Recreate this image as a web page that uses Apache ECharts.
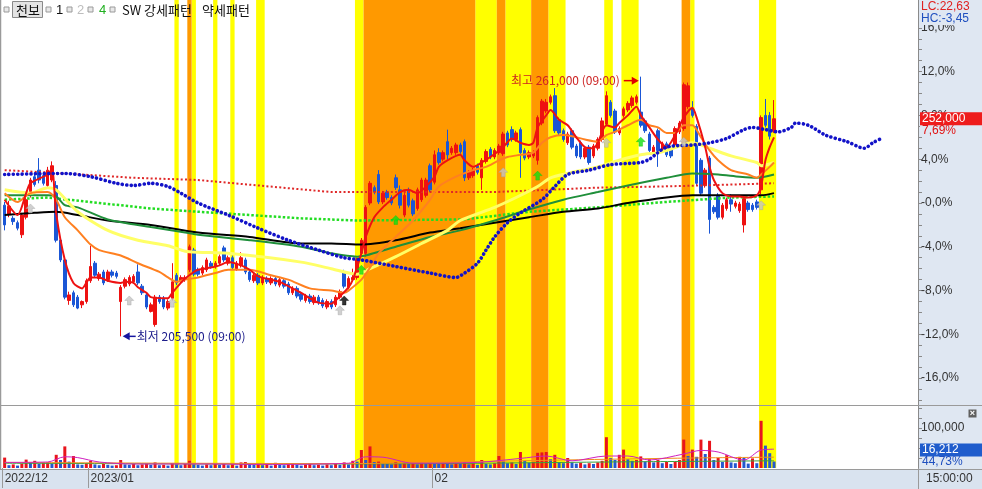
<!DOCTYPE html>
<html>
<head>
<meta charset="utf-8">
<script src="https://cdn.jsdelivr.net/npm/echarts@6.0.0/dist/echarts.min.js"></script>
<style>
html,body{margin:0;padding:0;background:#ffffff;overflow:hidden}
#c{width:982px;height:489px}
</style>
</head>
<body>
<div id="c"></div>
<script>
// ---------------- DATA ----------------
const SLOTS = 213;                       // category slots on the time axis (incl. forward space)
const xTickLabels = [[0, '2022/12'], [20, '2023/01'], [100, '02']];
const yTickPct = [-16, -12, -8, -4, 0, 4, 8, 12, 16];
const volTickLabels = [100000];
const volMinorTicks = [25000, 50000, 75000, 100000, 125000, 150000];

// candles: [open, close, low, high] in % versus reference price
const ohlc = [
[-0.2,-2.0,-2.5,0.1],[-1.0,-0.3,-1.3,0.2],[-1.4,-1.7,-2.0,-1.2],[-1.8,-2.3,-2.5,-1.6],[-2.9,-1.1,-3.2,-0.9],
[-1.3,0.3,-1.5,0.6],[0.7,2.1,0.5,2.3],[2.4,1.7,1.5,2.8],[3.0,2.1,1.8,4.1],[2.5,1.8,1.6,2.7],
[1.6,3.0,1.4,3.3],[2.1,3.4,1.9,3.8],[1.6,-3.4,-3.6,2.0],[-3.4,-5.2,-5.4,-3.2],[-5.2,-8.6,-8.8,-5.0],
[-8.9,-8.4,-9.3,-8.1],[-8.2,-9.3,-9.5,-8.0],[-8.6,-9.6,-9.7,-8.4],[-9.3,-9.0,-9.6,-8.9],[-9.0,-7.1,-9.2,-6.9],
[-7.1,-5.8,-7.3,-3.9],[-5.5,-6.6,-6.8,-5.3],[-6.9,-6.5,-7.1,-6.3],[-6.3,-7.3,-7.5,-6.1],[-7.0,-6.3,-7.2,-6.1],
[-6.3,-6.6,-6.8,-6.1],[-6.4,-6.7,-6.9,-6.2],[-9.0,-7.7,-12.18,-7.5],[-7.6,-7.0,-7.8,-6.8],[-7.4,-6.8,-7.6,-6.6],
[-7.2,-6.7,-7.4,-6.5],[-6.3,-7.3,-7.5,-5.6],[-7.6,-8.2,-8.4,-7.4],[-8.4,-9.5,-9.7,-8.2],[-9.9,-9.3,-10.0,-9.1],
[-11.1,-8.6,-11.3,-8.4],[-8.6,-9.0,-9.2,-8.4],[-8.7,-9.5,-9.7,-8.5],[-9.6,-9.0,-9.8,-8.8],[-8.7,-7.2,-8.9,-5.5],
[-6.6,-7.3,-7.5,-6.4],[-7.2,-6.8,-7.4,-6.6],[-7.0,-6.8,-7.2,-6.6],[-6.1,-4.0,-6.3,-3.8],[-4.3,-6.5,-6.7,-4.1],
[-6.1,-6.5,-6.7,-5.9],[-6.4,-5.9,-6.6,-5.7],[-6.1,-5.2,-6.3,-5.0],[-5.5,-5.8,-6.0,-5.3],[-5.8,-5.5,-6.0,-5.3],
[-5.5,-4.9,-5.7,-4.7],[-4.1,-5.2,-5.4,-3.9],[-5.5,-5.0,-5.7,-4.8],[-5.0,-5.9,-6.1,-4.8],[-6.0,-5.5,-6.2,-5.3],
[-5.7,-5.0,-5.9,-4.5],[-5.2,-6.3,-6.5,-5.0],[-6.3,-7.0,-7.2,-6.1],[-7.1,-6.6,-7.3,-6.4],[-6.6,-7.3,-7.5,-6.4],
[-7.3,-6.8,-7.5,-6.6],[-6.9,-7.2,-7.4,-6.7],[-7.3,-6.9,-7.5,-6.7],[-6.9,-7.4,-7.6,-6.7],[-7.5,-7.0,-7.7,-6.8],
[-7.1,-7.6,-7.8,-6.9],[-7.4,-8.2,-8.4,-7.2],[-8.2,-7.8,-8.4,-7.6],[-7.8,-8.5,-8.7,-7.6],[-8.3,-8.8,-9.0,-8.1],
[-8.9,-8.5,-9.1,-8.3],[-8.5,-9.0,-9.2,-8.3],[-9.1,-8.6,-9.3,-8.4],[-8.6,-9.1,-9.3,-8.4],[-8.9,-9.4,-9.6,-8.7],
[-9.5,-9.0,-9.7,-8.8],[-9.0,-9.5,-9.7,-8.8],[-9.3,-8.6,-9.5,-8.4],[-8.6,-8.1,-8.8,-7.9],[-6.3,-7.6,-7.8,-6.1],
[-7.7,-6.9,-7.9,-6.7],[-7.0,-6.8,-7.2,-6.0],[-6.8,-5.2,-7.0,-5.0],[-4.6,-3.4,-4.8,-3.2],[-4.6,-0.4,-4.9,-0.2],
[0.0,1.8,-0.2,2.0],[1.4,1.0,0.8,1.6],[2.6,0.1,-0.1,3.0],[0.1,0.9,-0.1,1.1],[1.0,0.5,0.3,1.2],
[0.5,0.0,-0.2,0.7],[2.3,1.4,1.2,2.6],[1.2,-0.2,-0.5,1.6],[-1.1,0.7,-1.3,0.9],[1.2,-0.2,-0.4,1.4],
[0.2,-1.0,-1.2,0.4],[-0.5,1.2,-0.7,1.4],[0.3,2.1,0.1,2.3],[0.7,2.1,0.5,2.3],[3.4,1.2,1.0,3.6],
[1.9,4.4,1.7,4.8],[4.6,3.7,3.5,5.0],[4.0,4.6,3.8,4.8],[5.6,4.4,4.0,6.7],[4.6,5.0,4.4,5.2],
[4.6,5.3,4.4,5.5],[5.3,4.7,4.5,5.5],[5.6,2.3,2.0,5.8],[2.3,2.8,2.1,3.0],[2.5,3.0,2.3,3.2],
[3.4,2.8,2.6,3.6],[2.3,3.9,1.2,4.1],[3.8,4.7,3.6,4.9],[4.9,4.2,4.0,5.1],[4.2,4.8,4.0,5.0],
[4.6,5.2,4.4,5.4],[4.5,6.3,4.3,6.5],[6.4,5.3,5.1,6.6],[6.7,5.8,5.6,7.0],[5.8,6.4,5.6,6.6],
[6.7,4.6,2.3,6.9],[4.8,4.1,3.9,5.0],[4.2,4.6,4.0,4.8],[4.3,4.6,4.1,4.8],[3.9,7.8,3.5,8.0],
[7.3,9.3,7.1,9.5],[8.4,9.2,8.2,9.5],[9.2,9.7,9.0,9.9],[9.8,6.6,6.4,10.5],[7.6,6.4,6.2,7.8],
[6.6,5.8,5.6,6.8],[5.5,6.3,5.3,6.5],[6.6,5.1,4.9,6.8],[5.2,4.3,4.1,5.4],[5.5,4.2,4.0,5.7],
[4.2,5.0,4.0,5.2],[5.1,3.7,3.5,5.3],[4.3,5.2,4.1,5.4],[5.0,5.8,4.8,6.0],[5.8,7.5,5.6,7.8],
[7.2,9.8,7.0,10.2],[9.2,8.0,7.8,9.4],[8.4,6.5,6.3,8.6],[6.4,6.8,6.2,7.0],[8.0,8.6,7.8,8.8],
[8.5,9.1,8.3,9.3],[8.9,9.6,8.7,9.8],[9.2,9.7,9.0,9.9],[8.3,7.1,6.9,11.54],[7.5,6.6,6.4,7.7],
[6.3,4.8,4.6,6.5],[4.6,5.1,4.4,5.3],[6.6,4.8,3.3,6.8],[4.9,5.4,4.7,5.6],[5.4,4.4,4.2,5.6],
[5.0,4.3,4.1,5.2],[5.3,6.8,5.1,7.0],[6.5,7.3,6.3,7.5],[6.8,10.8,6.6,11.0],[8.8,10.7,8.6,11.0],
[8.6,8.0,7.8,9.3],[7.0,1.8,1.6,7.2],[3.9,0.9,0.7,4.1],[1.6,3.0,1.4,3.2],[4.1,-1.5,-2.8,4.3],
[-0.4,-0.8,-1.0,-0.2],[0.7,-1.3,-1.5,0.9],[-1.3,-0.2,-1.5,0.0],[-0.5,0.3,-0.7,0.5],[0.3,-0.1,-0.8,0.8],
[-0.3,0.0,-0.5,0.2],[-0.7,-0.1,-0.9,0.1],[-2.0,0.4,-2.7,0.6],[0.0,-0.6,-0.8,0.2],[-0.2,-0.6,-0.8,0.0],
[0.1,-0.4,-0.6,0.3],[1.2,7.8,0.8,8.0],[8.0,7.1,6.9,9.5],[8.0,6.1,5.8,8.3],[6.6,7.69,6.4,9.4]
];

const volumes = [
26000,7000,9000,6000,11000,21000,14000,18000,10000,13000,15000,11000,33000,20000,54000,16000,30000,9000,8000,12000,
18000,9000,7000,10000,8000,6000,7000,20000,9000,8000,10000,7000,9000,11000,8000,14000,7000,8000,6000,12000,
9000,7000,10000,18000,9000,8000,6000,9000,7000,11000,8000,10000,7000,9000,6000,14000,15000,11000,8000,12000,
7000,9000,6000,13000,8000,7000,10000,12000,8000,6000,9000,11000,7000,8000,6000,9000,7000,10000,8000,14000,
9000,18000,16000,45000,20000,54000,15000,16000,12000,10000,9000,15000,11000,13000,10000,12000,9000,14000,11000,13000,
12000,10000,13000,11000,9000,12000,10000,14000,9000,11000,8000,20000,10000,9000,12000,30000,16000,12000,14000,10000,
40000,18000,13000,15000,38000,39000,40000,22000,33000,15000,12000,25000,14000,11000,13000,9000,12000,10000,14000,18000,
77000,25000,20000,33000,46000,22000,18000,20000,29000,16000,22000,14000,20000,12000,15000,10000,16000,20000,71000,30000,
46000,28000,71000,35000,68000,20000,25000,15000,32000,14000,12000,28000,25000,11000,24000,12000,118000,56000,37000,16212
];

// moving-average style lines: [barIndex, % value]
const maRed = [[0,0.3],[3,-1.1],[5,0.9],[6,1.8],[10,2.6],[11,3.1],[12,-1.0],[14,-5.2],[16,-7.3],[18,-7.8],[19,-7.3],[20,-6.8],[22,-6.8],[24,-7.1],[27,-7.3],[28,-7.2],[30,-7.3],[31,-7.7],[33,-8.2],[34,-8.6],[37,-8.7],[38,-8.7],[39,-8.2],[41,-7.3],[42,-6.9],[44,-6.3],[45,-6.1],[48,-5.9],[50,-5.7],[52,-5.4],[55,-5.7],[57,-6.1],[59,-6.7],[62,-7.0],[64,-7.2],[66,-7.6],[69,-8.2],[71,-8.7],[73,-9.1],[76,-9.2],[77,-8.9],[80,-7.7],[81,-7.0],[83,-4.6],[84,-3.1],[86,-1.3],[88,-0.4],[90,0.3],[92,1.0],[94,1.2],[96,0.9],[98,1.5],[100,2.4],[101,3.3],[103,3.9],[106,4.4],[107,3.9],[109,3.3],[111,3.7],[113,4.2],[116,5.1],[118,5.9],[120,5.5],[122,5.3],[123,5.5],[124,6.9],[126,8.0],[127,8.5],[129,7.6],[131,7.1],[133,6.0],[135,5.1],[137,5.0],[138,5.5],[140,7.1],[142,6.9],[143,7.3],[145,8.0],[147,8.8],[148,8.0],[150,6.9],[152,5.8],[154,5.1],[156,6.2],[158,7.8],[160,8.7],[161,7.8],[163,5.1],[164,3.3],[165,2.1],[167,0.9],[169,0.6],[171,0.6],[173,0.5],[175,0.7],[176,1.5],[177,3.9],[178,5.1],[179,6.0]];
const maOrange = [[0,0.9],[3,0.1],[6,0.9],[10,1.0],[12,0.3],[14,-1.3],[17,-2.5],[20,-3.8],[22,-4.3],[27,-4.8],[31,-5.5],[36,-6.3],[38,-6.8],[40,-7.2],[42,-7.0],[45,-6.8],[49,-6.4],[52,-6.1],[57,-6.1],[62,-6.6],[66,-7.0],[71,-7.8],[76,-8.0],[79,-8.2],[80,-8.0],[83,-7.0],[85,-5.9],[87,-4.6],[91,-3.1],[95,-1.6],[99,0.3],[101,1.5],[105,2.4],[109,3.0],[112,3.3],[115,3.9],[117,4.2],[120,4.4],[123,4.6],[125,5.5],[127,6.0],[130,6.2],[132,6.1],[135,5.8],[138,5.6],[140,6.2],[142,6.5],[145,7.1],[148,7.6],[150,7.1],[152,6.9],[154,6.4],[156,6.4],[158,7.1],[160,7.1],[162,6.0],[164,4.8],[166,3.9],[169,3.0],[173,2.6],[175,2.3],[176,2.6],[178,3.3],[179,3.7]];
const maYellow = [[0,1.2],[6,0.9],[10,1.4],[12,1.2],[17,-0.8],[24,-2.5],[31,-3.4],[38,-3.9],[42,-4.4],[45,-4.5],[52,-4.6],[69,-5.4],[76,-6.0],[82,-6.5],[85,-6.0],[91,-4.9],[97,-3.7],[103,-2.5],[106,-1.6],[114,-0.4],[119,0.5],[124,1.5],[127,2.3],[131,2.7],[138,3.3],[143,3.9],[148,4.4],[152,4.6],[154,4.8],[160,5.5],[164,5.0],[169,4.3],[175,3.7],[176,3.4],[179,3.7]];
const maGreen = [[0,0.7],[10,0.7],[12,0.6],[14,-0.2],[17,-0.4],[24,-1.5],[34,-2.2],[42,-2.7],[45,-2.9],[57,-3.4],[69,-4.0],[76,-4.6],[82,-4.9],[84,-4.8],[91,-4.0],[99,-3.1],[106,-2.5],[114,-1.6],[122,-0.6],[130,0.3],[138,1.0],[145,1.6],[154,2.3],[160,2.7],[166,2.6],[171,2.4],[175,2.3],[179,2.6]];
const maBlack = [[0,-1.1],[7,-0.9],[12,-0.8],[17,-1.1],[24,-1.6],[34,-2.0],[45,-2.7],[57,-3.1],[69,-3.7],[76,-3.7],[83,-3.8],[91,-3.4],[99,-2.7],[106,-2.3],[114,-1.8],[122,-1.3],[130,-0.8],[138,-0.5],[145,0.0],[154,0.5],[160,0.7],[166,0.7],[176,0.7],[179,0.9]];
const dotRed = [[0,3.0],[14,2.7],[30,2.3],[45,2.1],[59,1.6],[76,1.0],[114,1.0],[138,1.4],[152,1.5],[162,1.6],[179,1.8]];
const dotGreen = [[0,0.3],[10,0.5],[22,0.0],[34,-0.5],[45,-0.8],[69,-1.4],[82,-1.6],[107,-1.5],[122,-0.8],[138,-0.4],[154,0.1],[169,0.5],[179,0.6]];
const dotBlue = [[0,2.6],[14,2.7],[20,2.4],[26,1.8],[30,1.6],[34,1.8],[38,1.5],[41,0.9],[45,0.0],[52,-1.1],[59,-2.3],[66,-3.4],[73,-4.3],[79,-5.0],[83,-5.2],[91,-5.8],[99,-6.4],[105,-6.8],[107,-6.4],[110,-5.5],[112,-4.3],[114,-3.1],[117,-1.8],[120,-0.9],[125,0.3],[128,1.5],[131,2.6],[136,3.0],[141,3.5],[148,3.7],[150,4.0],[154,5.1],[160,5.3],[164,5.5],[168,5.9],[172,6.7],[174,6.9],[177,6.7],[180,6.5],[183,6.9],[184,7.3],[187,7.1],[191,6.2],[196,5.6],[200,5.0],[202,5.5],[204,5.9]];

// volume pane lines: [barIndex, volume]
const volMagenta = [[0,14000],[10,15000],[14,28000],[17,26000],[22,15000],[30,10000],[45,10000],[60,9000],[80,12000],[84,28000],[88,27000],[95,12000],[110,14000],[120,24000],[126,30000],[132,18000],[140,30000],[145,30000],[150,20000],[158,35000],[162,44000],[166,40000],[172,20000],[176,45000],[179,47000]];
const volOrange = [[0,14000],[40,12000],[80,11000],[100,14000],[130,20000],[160,25000],[179,27000]];
const volGreen = [[0,12000],[60,10000],[100,11000],[140,15000],[179,18000]];

// highlighted pattern bands: [fromIndex, toIndex]
const yellowBands = [[40,40],[44,44],[49,49],[53,53],[59,60],[82,83],[110,114],[117,122],[127,130],[140,141],[144,147],[160,160],[176,179]];
const orangeBands = [[43,43],[84,109],[115,116],[123,126],[158,159]];

// signal arrows: [barIndex, % value]
const graySignals = [[6,-0.5],[29,-8.9],[39,-9.1],[78,-9.8],[116,2.8],[140,5.5],[158,5.6],[176,-0.2]];
const greenSignals = [[83,-6.1],[91,-1.55],[124,2.5],[148,5.6]];
const blackSignals = [[79,-8.9]];

const highPoint = {idx: 148, pct: 11.54, text: '최고 261,000 (09:00)'};
const lowPoint = {idx: 27, pct: -12.18, text: '최저 205,500 (09:00)'};
const lastPriceText = '252,000', lastPctText = '7,69%';
const lastVolText = '16,212', volPctText = '44,73%';
const lcText = 'LC:22,63', hcText = 'HC:-3,45';
const timeText = '15:00:00';

// ---------------- CHART ----------------
const RED = '#ee1111', BLUE = '#1a56d6';
const PANEL = '#dfe7f2';
const NUMFONT = 'Liberation Sans, Arial, sans-serif';
const KFONT = '"Noto Sans CJK KR", sans-serif';
const L = 2.5, W = 915.5;

const cats = Array.from({length: SLOTS}, (_, i) => 'c' + i);
const labelMap = new Map(xTickLabels);
const fmtPct = v => (v === 0 ? '-0,0' : v.toFixed(1).replace('.', ',')) + '%';
const intTicks = []; for (let v = -18; v <= 18; v++) intTicks.push(v);

const bandData = yellowBands.map(b => [b[0], b[1], 0, 0]).concat(orangeBands.map(b => [b[0], b[1], 0, 1]));
function bandRender(params, api) {
  const s = api.value(0), e = api.value(1);
  const w = api.size([1, 0])[0];
  const x0 = api.coord([s, 0])[0] - w / 2;
  const x1 = api.coord([e, 0])[0] + w / 2;
  const cs = params.coordSys;
  return {type: 'rect', shape: {x: x0, y: cs.y, width: x1 - x0, height: cs.height},
          style: {fill: api.value(3) === 1 ? '#ff9900' : '#ffff00'}};
}

function lineSeries(data, color, width, type, extra) {
  return Object.assign({
    type: 'line', xAxisIndex: 0, yAxisIndex: 0, data: data, showSymbol: false, symbol: 'none',
    smooth: 0.25, z: 3, silent: true,
    lineStyle: {color: color, width: width, type: type || 'solid'}
  }, extra || {});
}
const arrowPath = 'path://M5,0 L10,5 L7,5 L7,10 L3,10 L3,5 L0,5 Z';
function signalSeries(data, color, border) {
  return {type: 'scatter', xAxisIndex: 0, yAxisIndex: 0, data: data, symbol: arrowPath,
          symbolSize: [9, 9], z: 5, silent: true,
          itemStyle: {color: color, borderColor: border, borderWidth: 0.5}};
}

const volData = volumes.map((v, i) => ({
  value: v,
  itemStyle: {color: (i === 0 || v >= volumes[i - 1]) ? '#e8141c' : '#2458d0'}
}));

const chart = echarts.init(document.getElementById('c'), null, {renderer: 'canvas'});
chart.setOption({
  animation: false,
  backgroundColor: '#ffffff',
  grid: [
    {left: L, top: 0, width: W, height: 405},
    {left: L, top: 405, width: W, height: 63}
  ],
  xAxis: [
    {type: 'category', gridIndex: 0, data: cats, boundaryGap: true,
     axisLine: {show: false}, axisTick: {show: false}, axisLabel: {show: false}, splitLine: {show: false}},
    {type: 'category', gridIndex: 1, data: cats, boundaryGap: true,
     axisLine: {show: false},
     axisTick: {show: true, interval: (i) => labelMap.has(i), length: 20, lineStyle: {color: '#9a9a9a', width: 1}},
     axisLabel: {interval: (i) => labelMap.has(i), formatter: (v, i) => labelMap.get(i) || '',
                 align: 'left', margin: 5, color: '#333', fontSize: 12, fontFamily: NUMFONT},
     splitLine: {show: false}}
  ],
  yAxis: [
    {type: 'value', gridIndex: 0, position: 'right', min: -18.45, max: 18.54,
     axisLine: {show: true, lineStyle: {color: '#8a8a8a'}},
     axisTick: {show: true, customValues: intTicks, length: 4, lineStyle: {color: '#8a8a8a'}},
     axisLabel: {customValues: yTickPct, formatter: fmtPct, color: '#333', fontSize: 12, fontFamily: NUMFONT, margin: 3},
     splitLine: {show: false}},
    {type: 'value', gridIndex: 1, position: 'right', min: 0, max: 157500,
     axisLine: {show: true, lineStyle: {color: '#8a8a8a'}},
     axisTick: {show: true, customValues: volMinorTicks, length: 4, lineStyle: {color: '#8a8a8a'}},
     axisLabel: {customValues: volTickLabels, formatter: v => v.toLocaleString('en-US'), color: '#333', fontSize: 12, fontFamily: NUMFONT, margin: 3},
     splitLine: {show: false}}
  ],
  series: [
    {type: 'custom', xAxisIndex: 0, yAxisIndex: 0, data: bandData, renderItem: bandRender,
     encode: {x: [0, 1], y: 2}, z: 0, silent: true, clip: false},
    {type: 'custom', xAxisIndex: 1, yAxisIndex: 1, data: bandData, renderItem: bandRender,
     encode: {x: [0, 1], y: 2}, z: 0, silent: true, clip: false},
    {type: 'candlestick', xAxisIndex: 0, yAxisIndex: 0, data: ohlc, barWidth: 3, z: 2, silent: true,
     itemStyle: {color: RED, color0: BLUE, borderColor: RED, borderColor0: BLUE, borderWidth: 1}},
    lineSeries(dotRed, '#e02828', 2, [2, 2.3], {smooth: false}),
    lineSeries(dotGreen, '#22dd22', 2.5, [2.5, 2], {smooth: false}),
    lineSeries(maBlack, '#000000', 2),
    lineSeries(maGreen, '#1f8f3a', 2),
    lineSeries(maYellow, '#ffff66', 3),
    lineSeries(maOrange, '#ff8020', 2),
    lineSeries(maRed, RED, 2),
    lineSeries(dotBlue, '#1212c8', 3.6, [0.1, 4.3], {smooth: 0.3, lineStyle: {color: '#1212c8', width: 3.6, type: [0.1, 4.3], cap: 'round'}}),
    signalSeries(graySignals, '#c4c4c4', '#a0a0a0'),
    signalSeries(greenSignals, '#10e010', '#10c010'),
    signalSeries(blackSignals, '#000000', '#000000'),
    {type: 'bar', xAxisIndex: 1, yAxisIndex: 1, data: volData, barWidth: 3, z: 2, silent: true},
    {type: 'line', xAxisIndex: 1, yAxisIndex: 1, data: volGreen, showSymbol: false, smooth: 0.3, z: 3,
     lineStyle: {color: '#3aa040', width: 1}},
    {type: 'line', xAxisIndex: 1, yAxisIndex: 1, data: volOrange, showSymbol: false, smooth: 0.3, z: 3,
     lineStyle: {color: '#f09020', width: 1}},
    {type: 'line', xAxisIndex: 1, yAxisIndex: 1, data: volMagenta, showSymbol: false, smooth: 0.3, z: 3,
     lineStyle: {color: '#d020c0', width: 1}}
  ]
});

// ---------------- OVERLAY TEXT / DECOR ----------------
const hp = chart.convertToPixel({gridIndex: 0}, [highPoint.idx, highPoint.pct]);
const lp = chart.convertToPixel({gridIndex: 0}, [lowPoint.idx, lowPoint.pct]);
const cp = chart.convertToPixel({gridIndex: 0}, [ohlc.length - 1, ohlc[ohlc.length - 1][1]]);
const vp = chart.convertToPixel({gridIndex: 1}, [volumes.length - 1, volumes[volumes.length - 1]]);

function txt(x, y, s, fill, font, align) {
  return {type: 'text', x: x, y: y, z: 100, silent: true,
          style: {text: s, fill: fill, font: font || ('12px ' + NUMFONT), align: align || 'left', verticalAlign: 'middle'}};
}
function rect(x, y, w, h, fill, stroke, z) {
  return {type: 'rect', z: z === undefined ? 100 : z, silent: true, shape: {x: x, y: y, width: w, height: h},
          style: {fill: fill, stroke: stroke || null, lineWidth: stroke ? 1 : 0}};
}
function ln(x1, y1, x2, y2, color, w, z) {
  return {type: 'line', z: z === undefined ? 90 : z, silent: true, shape: {x1: x1, y1: y1, x2: x2, y2: y2},
          style: {stroke: color, lineWidth: w || 1}};
}
function smallBox(x) {
  return rect(x, 7, 5, 5, '#e8e8e8', '#9a9a9a', 100);
}

const G = [];
// panels
G.push(rect(918.5, 0, 64, 469, PANEL, null, -5));
G.push(rect(0, 469, 982, 20, '#d9e3ef', null, -5));
G.push(ln(0, 405.5, 982, 405.5, '#9a9a9a', 1));
G.push(ln(0, 469.5, 982, 469.5, '#9a9a9a', 1));
G.push(ln(918.5, 469, 918.5, 489, '#9a9a9a', 1));
G.push(ln(0.5, 0, 0.5, 469, '#9a9a9a', 1.5));
G.push(txt(926, 479, timeText, '#333'));
// legend
G.push(smallBox(4));
G.push(rect(12.5, 1.5, 30, 16, '#e4e4e4', '#8a8a8a', 100));
G.push(txt(16, 10, '천보', '#111', '13px ' + KFONT));
G.push(smallBox(46));
G.push(txt(56, 10, '1', '#111', '13px ' + NUMFONT));
G.push(smallBox(67));
G.push(txt(77, 10, '2', '#bdbdbd', '13px ' + NUMFONT));
G.push(smallBox(88));
G.push(txt(99, 10, '4', '#20b020', '13px ' + NUMFONT));
G.push(smallBox(110));
G.push(txt(122, 10, 'SW 강세패턴', '#111', '13px ' + KFONT));
G.push(txt(202, 10, '약세패턴', '#111', '13px ' + KFONT));
// right-top info
G.push(rect(919, 0, 63, 25, PANEL, null, 95));
G.push(txt(921, 7, lcText, '#e02020', '12px ' + NUMFONT));
G.push(txt(921, 19, hcText, '#1f4fbf', '12px ' + NUMFONT));
// last price box
G.push(rect(920, cp[1] - 6.5, 62, 13, '#ee1c1c', null, 100));
G.push(txt(922, cp[1], lastPriceText, '#ffffff', '12px ' + NUMFONT));
G.push(rect(920, cp[1] + 6.5, 40, 11, PANEL, null, 98));
G.push(txt(922, cp[1] + 12, lastPctText, '#e01010', '12px ' + NUMFONT));
// volume box
G.push(rect(920, vp[1] - 18, 62, 13, '#1f5ccc', null, 100));
G.push(txt(922, vp[1] - 11.5, lastVolText, '#ffffff', '12px ' + NUMFONT));
G.push(txt(922, vp[1] + 0.5, volPctText, '#1f4fbf', '12px ' + NUMFONT));
// close icon in volume pane
G.push(rect(968.5, 409.5, 8, 8, '#606060', null, 100));
G.push(txt(972.5, 413.5, '×', '#ffffff', 'bold 9px ' + NUMFONT, 'center'));
// high annotation
G.push(txt(hp[0] - 21, hp[1] + 4, highPoint.text, '#cc2222', '12px ' + KFONT, 'right'));
G.push(ln(hp[0] - 17, hp[1] + 4, hp[0] - 8, hp[1] + 4, '#e00000', 1.5, 100));
G.push({type: 'polygon', z: 100, silent: true, shape: {points: [[hp[0] - 9, hp[1]], [hp[0] - 2, hp[1] + 4], [hp[0] - 9, hp[1] + 8]]}, style: {fill: '#e00000'}});
// low annotation
G.push({type: 'polygon', z: 100, silent: true, shape: {points: [[lp[0] + 2, lp[1]], [lp[0] + 9, lp[1] - 4], [lp[0] + 9, lp[1] + 4]]}, style: {fill: '#1515a0'}});
G.push(ln(lp[0] + 8, lp[1], lp[0] + 15, lp[1], '#1515a0', 1.5, 100));
G.push(txt(lp[0] + 16, lp[1], lowPoint.text, '#1a1a8a', '12px ' + KFONT));

chart.setOption({graphic: {elements: G}});
</script>
</body>
</html>
